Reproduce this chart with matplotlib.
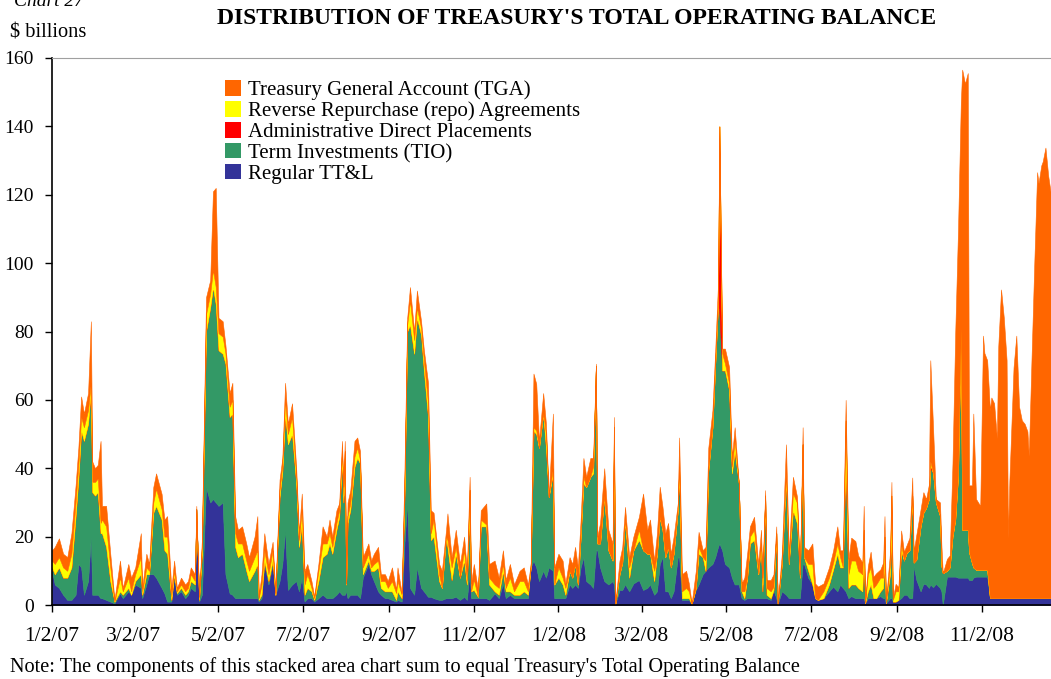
import pandas as pd
import matplotlib
matplotlib.use("Agg")
import matplotlib.pyplot as plt
from matplotlib.patches import Patch

# ---- data ($ billions) ----
# day: calendar days after 1/2/07
day = [0, 2, 5, 8, 11, 14, 17, 19, 21, 23,
       26, 28, 29, 31, 33, 35, 36, 39, 42, 45,
       49, 51, 55, 57, 60, 64, 65, 68, 70, 73,
       75, 79, 81, 83, 86, 88, 90, 93, 96, 98,
       100, 103, 104, 106, 108, 111, 114, 116, 118, 120,
       123, 125, 128, 130, 132, 134, 137, 140, 142, 146,
       148, 149, 151, 153, 156, 159, 161, 164, 166, 168,
       170, 173, 176, 178, 180, 182, 184, 187, 189, 192,
       195, 198, 200, 202, 205, 207, 209, 210, 211, 212,
       213, 215, 218, 220, 222, 224, 228, 230, 232, 235,
       237, 240, 242, 245, 248, 249, 252, 254, 256, 258,
       261, 263, 266, 268, 271, 273, 275, 279, 281, 284,
       285, 288, 291, 294, 297, 299, 301, 302, 304, 307,
       309, 313, 315, 319, 322, 325, 327, 330, 333, 337,
       340, 343, 345, 347, 349, 351, 354, 356, 358, 361,
       362, 365, 368, 370, 373, 375, 377, 379, 381, 383,
       385, 388, 390, 392, 393, 395, 398, 401, 404, 405,
       406, 409, 411, 413, 416, 419, 423, 426, 429, 431,
       434, 436, 438, 440, 442, 444, 446, 448, 451, 452,
       454, 457, 459, 461, 464, 466, 469, 471, 473, 476,
       478, 480, 481, 483, 485, 488, 490, 492, 495, 497,
       499, 501, 503, 506, 509, 511, 512, 514, 515, 518,
       520, 522, 523, 526, 529, 531, 534, 537, 539, 541,
       542, 545, 548, 550, 552, 556, 560, 563, 566, 568,
       570, 572, 574, 576, 579, 581, 584, 585, 586, 588,
       590, 592, 594, 597, 599, 600, 601, 604, 605, 606,
       608, 610, 612, 614, 616, 618, 620, 621, 623, 626,
       628, 630, 632, 633, 635, 637, 640, 641, 642, 645,
       647, 649, 651, 653, 655, 656, 658, 660, 661, 663,
       664, 666, 669, 671, 672, 674, 676, 677, 679, 681,
       682, 684, 686, 688, 689, 690, 693, 695, 697, 699,
       701, 703, 704, 706, 708, 710, 711, 713, 714, 716,
       718, 720]

ttl = [10, 6, 5, 3, 1.5, 1.5, 3, 12, 11, 3,
       7, 20, 3, 3, 3, 2, 2, 1.5, 1, 0.5,
       3.4, 2, 4, 3, 6, 5, 2, 6, 9, 9,
       8, 5, 3.4, 1, 1, 8, 3, 4, 2, 3,
       5, 4, 28, 1, 3, 34.5, 30, 31, 30, 29,
       30, 9, 3.4, 3, 2, 2, 2, 2, 2, 2,
       2, 1, 2, 12, 6, 12, 3, 7, 12, 22,
       4.4, 6, 7, 4, 8, 1, 2, 2, 1, 2,
       3, 2, 2, 2, 3, 4, 3, 3, 3, 4,
       2, 3, 3, 3, 2, 8, 12, 9, 7, 4,
       3, 2, 2, 1.5, 1, 1.5, 1, 18, 30, 5,
       3, 11, 5, 4, 2.4, 2.4, 2, 1.5, 1.5, 2,
       2, 2, 2.4, 1.5, 2.4, 1.5, 10, 2, 2, 2,
       2, 2, 1.5, 3.4, 2, 6.3, 2, 3, 2, 2,
       2, 2, 11, 13, 11, 7, 10, 8, 11, 10,
       2, 2, 2, 2, 6, 5, 6, 5, 11, 14,
       7, 6, 5, 16, 16, 11, 7, 6, 7, 6,
       0.3, 4.4, 4.4, 6, 4, 6.3, 7.3, 4.4, 5, 6,
       3, 4, 12, 14, 4, 4, 2, 4, 14, 14,
       1.5, 1.5, 1.5, 0.3, 4.4, 6, 9, 10, 11, 12,
       14, 17, 18, 16, 12, 11, 8, 6, 6, 2,
       1.5, 2, 2, 2, 2, 2, 2, 2, 2, 1.5,
       4.4, 2, 0.2, 4, 3, 2, 2, 2, 2, 12,
       12, 8, 6, 2, 1.5, 2, 4, 5.4, 4, 6,
       5, 4, 2, 2.6, 2, 2, 2, 2, 0.5, 2,
       2, 2, 2, 2.6, 2, 2, 0.5, 2, 2, 1,
       1, 1.5, 2, 3, 3, 2, 2, 11.4, 7.3, 4,
       6.2, 6, 5, 6, 5.2, 6.2, 5, 4, 0, 8.3,
       8.3, 8.3, 8.3, 8, 8, 8, 8, 8, 7.3, 7.3,
       8, 8.3, 8.3, 8.3, 8.3, 8.3, 2, 2, 2, 2,
       2, 2, 2, 2, 2, 2, 2, 2, 2, 2,
       2, 2, 2, 2, 2, 2, 2, 2, 2, 2,
       2, 2]

tio = [1, 3, 6, 5, 6.5, 9.5, 23, 25, 40, 45,
       46, 43, 30, 29, 30, 19, 19, 15.5, 6, 0.5,
       0.6, 1, 1, 0, 1, 4, 1, 3, 0, 18,
       21, 20, 12.6, 14, 0.5, 1, 0.5, 1, 1, 1,
       2, 2, 0, 0.5, 12, 45.5, 57, 62, 58, 45.5,
       43.5, 61.6, 51.6, 53, 15, 12, 13, 8, 5, 8,
       10, 0.5, 1, 1, 1, 1, 0, 24.6, 27, 34,
       42.6, 44, 28.5, 13, 16, 2, 3, 2, 0.5, 5,
       11, 13, 16, 13, 19, 21.8, 40, 27, 40, 2,
       22, 24.8, 37.4, 40, 39.4, 1, 1, 1, 3, 7,
       2, 2, 2, 2.5, 0.5, 2.5, 1, 13.6, 50, 77,
       70.5, 73, 74, 64.6, 52.6, 16.6, 18, 5.5, 3.5, 18,
       15, 5.3, 12.6, 6.5, 10.6, 4.5, 19.7, 2, 2.4, 0.4,
       21, 21, 4.5, 0.6, 1, 3.7, 2, 1, 1, 1,
       2, 1, 0, 38, 39, 39, 46, 38, 20.6, 28.5,
       4, 6, 4, 1, 4, 3, 6, 1, 9, 21.5,
       27.5, 31.5, 33.5, 54, 2, 7, 25, 10, 6, 40,
       0, 4.6, 8, 19, 4, 9.7, 11.7, 11.6, 10, 9,
       4, 11, 13.8, 8, 10, 13, 9, 11, 13.7, 25.4,
       0.5, 0.5, 0.5, 0, 0.6, 9, 5, 0, 28.4, 40,
       56.6, 71, 67, 52.6, 56.6, 51.8, 30.5, 39, 29.5, 2,
       0.5, 6, 16, 17, 7, 16, 2, 30, 1, 0.5,
       0, 19, 0, 8, 34.5, 10, 25.7, 21.8, 6, 35,
       2, 2, 0, 0, 0, 0, 2, 5, 11, 5,
       6, 40, 3, 3.4, 4, 3, 2, 15, 0, 2,
       4, 0, 0, 1.4, 3, 12, 0, 7, 20, 0,
       0, 0, 14, 10, 12.3, 14, 30, 1, 6, 19,
       20.8, 22.4, 26, 34, 33.4, 23.8, 21, 7.4, 9.3, 1.7,
       2.7, 11.7, 16.7, 30, 72, 14, 14, 14, 8, 5,
       3, 2, 2, 2, 2, 2, 0, 0, 0, 0,
       0, 0, 0, 0, 0, 0, 0, 0, 0, 0,
       0, 0, 0, 0, 0, 0, 0, 0, 0, 0,
       0, 0]

repo = [2, 3, 3, 3, 2, 4, 4, 4, 4, 4,
        4, 2, 3, 4, 4, 3, 4, 6, 4, 0,
        4, 1, 3, 1, 2, 5, 1, 2, 1, 3,
        5, 3, 4, 5, 1, 1, 0.5, 1, 1, 1,
        2, 1, 0, 0.5, 2, 5, 4, 5, 5, 5,
        5, 3, 3, 4, 4, 4, 3, 3, 3, 4,
        4, 0.5, 3, 3, 2, 3, 0, 2, 2, 4,
        3, 5, 2, 2, 4, 3, 4, 1, 0.5, 3,
        4, 3, 3, 2, 2, 2, 2, 2, 2, 0,
        2, 2, 3, 3, 1, 2, 2, 1, 2, 2,
        2, 3, 1, 3, 2, 3, 1, 2, 2, 7,
        4, 3, 2, 3, 4, 2, 5, 2, 0, 0,
        2, 3.7, 2, 0, 3, 1, 4, 0, 3, 0,
        2, 0.5, 2, 2, 2, 2, 1, 4, 1, 4,
        3, 1, 0, 1, 1, 0, 0, 4, 0, 1.5,
        0, 3, 2, 2, 0, 0, 0, 0, 0, 2,
        0, 0, 2, 0, 0, 0, 0, 0, 0, 6,
        0, 0, 0, 0, 3, 0, 3, 0, 0, 0,
        3, 0, 0, 0, 0, 0, 0, 0, 0, 0,
        2, 3, 2, 0, 0, 2, 0, 3, 0, 0,
        0, 0, 0, 5, 2, 2, 2, 3, 0, 0,
        2, 0, 2, 3, 0, 0, 2, 0, 2, 2,
        1, 0, 0, 0, 1, 0, 5, 6, 0, 0,
        0, 2, 6, 0, 0, 2, 2, 2, 3, 3,
        0, 10, 4, 7, 7, 5, 5, 5, 0, 5,
        5, 3, 4, 4, 3, 6, 0, 3, 10, 0.5,
        3, 2.5, 2, 0, 0, 0, 0, 0, 0, 0,
        0, 0, 0, 1, 0, 0, 0, 0, 0, 0,
        0, 0, 0, 0, 1, 0, 0, 0, 0, 0,
        0, 0, 0, 0, 0, 0, 0, 0, 0, 0,
        0, 0, 0, 0, 0, 0, 0, 0, 0, 0,
        0, 0, 0, 0, 0, 0, 0, 0, 0, 0,
        0, 0]

tga = [3, 5, 5.5, 4, 4, 6, 5, 5, 6, 4,
       5, 18, 6, 4, 4, 24, 4, 6, 4, 0.5,
       5, 1, 4, 4, 2, 7, 1, 4, 2, 4.5,
       4.5, 4.5, 5, 6, 2, 3, 1, 2, 2, 2,
       2, 2, 1, 0.5, 2, 5, 4, 23, 29, 4.5,
       4.5, 2.4, 4, 5, 5, 4, 5, 5, 4, 6,
       10, 0.5, 3, 5, 3, 2.5, 0.5, 3, 2, 5,
       3, 4, 2.5, 2, 4.6, 4, 3, 2, 0.5, 2,
       5, 2, 4, 3, 3.7, 2, 3, 2.6, 3, 0.3,
       4, 3.8, 4.6, 3, 2.6, 3, 3, 2, 3, 4,
       2, 2, 2, 4, 1, 4, 0.5, 5.4, 2, 4,
       2.5, 5, 2, 3, 6, 6.7, 2, 3, 5, 2,
       7.8, 3, 5, 4, 4, 3, 3.8, 2.3, 4.6, 2,
       2.7, 6.2, 4, 7, 3, 4, 2.3, 4, 2, 3,
       4, 2, 1, 15.7, 13.7, 2, 6, 3, 0, 16,
       5, 4, 5, 1.3, 4, 4, 5, 5, 5, 5.5,
       3, 5.5, 2.5, 0.6, 2, 6, 8, 6, 5, 3,
       0.2, 4, 4.6, 3.7, 3, 4, 3.8, 16.6, 7, 10,
       3, 6, 8.8, 6.7, 7, 7, 4, 5, 2, 8.6,
       5, 5, 2.3, 0.2, 5, 4.4, 2, 4, 6.6, 5,
       4, 6, 0, 1.4, 4.4, 4.8, 2.5, 4, 0, 2.3,
       4, 7, 3, 3.8, 3, 4, 2, 1.6, 2.3, 3.3,
       3.6, 2, 0.2, 3, 8.5, 3, 4.8, 1.8, 1, 5,
       3, 4, 6, 4.3, 3.9, 2.3, 3, 3.6, 5, 2,
       5, 6, 4.5, 6.7, 5.7, 4.5, 3.4, 7, 0.5, 2.4,
       4.6, 3.3, 3.3, 2.4, 4.4, 6, 0.5, 3.6, 4, 0.5,
       2.2, 1.2, 3.8, 2.6, 2.3, 3.7, 5.3, 3.2, 7.4, 5,
       6, 2.6, 4.3, 29.6, 13.3, 1, 4, 6.2, 0, 3.5,
       3.5, 21.5, 55, 72, 66, 134.6, 130.5, 133.6, 19.7, 22.7,
       45, 20.7, 18.7, 68.5, 63.4, 61.3, 55, 58.7, 57, 46.8,
       73.7, 90.3, 82, 69.6, 17.7, 34.3, 67.5, 76.8, 56, 52,
       51, 48.8, 41.6, 70.6, 98.6, 124.6, 121.4, 126.6, 127.7, 131.8,
       123.5, 118]

# administrative direct placements only show up on a few days
adp_spikes = {452: 1, 481: 55, 633: 1}

series_names = ["Regular TT&L", "Term Investments (TIO)",
                "Administrative Direct Placements",
                "Reverse Repurchase (repo) Agreements",
                "Treasury General Account (TGA)"]
series_colors = ["#333399", "#339966", "#FF0000", "#FFFF00", "#FF6600"]

start = pd.Timestamp("2007-01-02")
dates = start + pd.to_timedelta(day, unit="D")
adp = [adp_spikes.get(d, 0) for d in day]

plt.rcParams["font.family"] = ["Liberation Serif", "DejaVu Serif"]

fig = plt.figure(figsize=(10.51, 6.79), dpi=100)
ax = fig.add_axes([52 / 1051, 1 - 605 / 679, 1 - 52 / 1051, (605 - 58) / 679])

polys = ax.stackplot(dates, ttl, tio, adp, repo, tga,
                     colors=series_colors, linewidth=0.4)
for p, c in zip(polys, series_colors):
    p.set_edgecolor(c)

# axes
ax.set_ylim(0, 160)
ax.set_xlim(start, start + pd.Timedelta(days=720))
ax.set_yticks(range(0, 161, 20))
ax.tick_params(axis="y", direction="out", length=5, width=1, pad=8, labelsize=14)

tick_dates = [pd.Timestamp(2007 + (2 * i) // 12, (2 * i) % 12 + 1, 2) for i in range(12)]
ax.set_xticks(tick_dates)
ax.set_xticklabels([f"{t.month}/{t.day}/{t.year % 100:02d}" for t in tick_dates])
ax.tick_params(axis="x", direction="out", length=5, width=1, pad=11, labelsize=15.5)

ax.spines["right"].set_visible(False)
ax.spines["top"].set_color("#a0a0a0")
ax.spines["left"].set_linewidth(1.2)
ax.spines["bottom"].set_linewidth(1.2)

# legend, top first
handles = [Patch(facecolor=c, edgecolor="none") for c in series_colors[::-1]]
fig.legend(handles, series_names[::-1], loc="upper left",
           bbox_to_anchor=(215 / 1051, 1 - 70 / 679), frameon=False,
           fontsize=15, handlelength=0.75, handleheight=0.75,
           handletextpad=0.35, labelspacing=0.05, borderpad=0)

# texts
fig.text(577 / 1051, 1 - 18 / 679, "DISTRIBUTION OF TREASURY'S TOTAL OPERATING BALANCE",
         ha="center", va="center", fontsize=17, fontweight="bold")
fig.text(10 / 1051, 1 - 33 / 679, "$ billions", ha="left", va="center", fontsize=14.7)
fig.text(14 / 1051, 1 - 2 / 679, "Chart 27", ha="left", va="center", fontsize=14, style="italic")
fig.text(10 / 1051, 1 - 667 / 679,
         "Note: The components of this stacked area chart sum to equal Treasury's Total Operating Balance",
         ha="left", va="center", fontsize=14.6)

fig.savefig("out.png", dpi=100)
